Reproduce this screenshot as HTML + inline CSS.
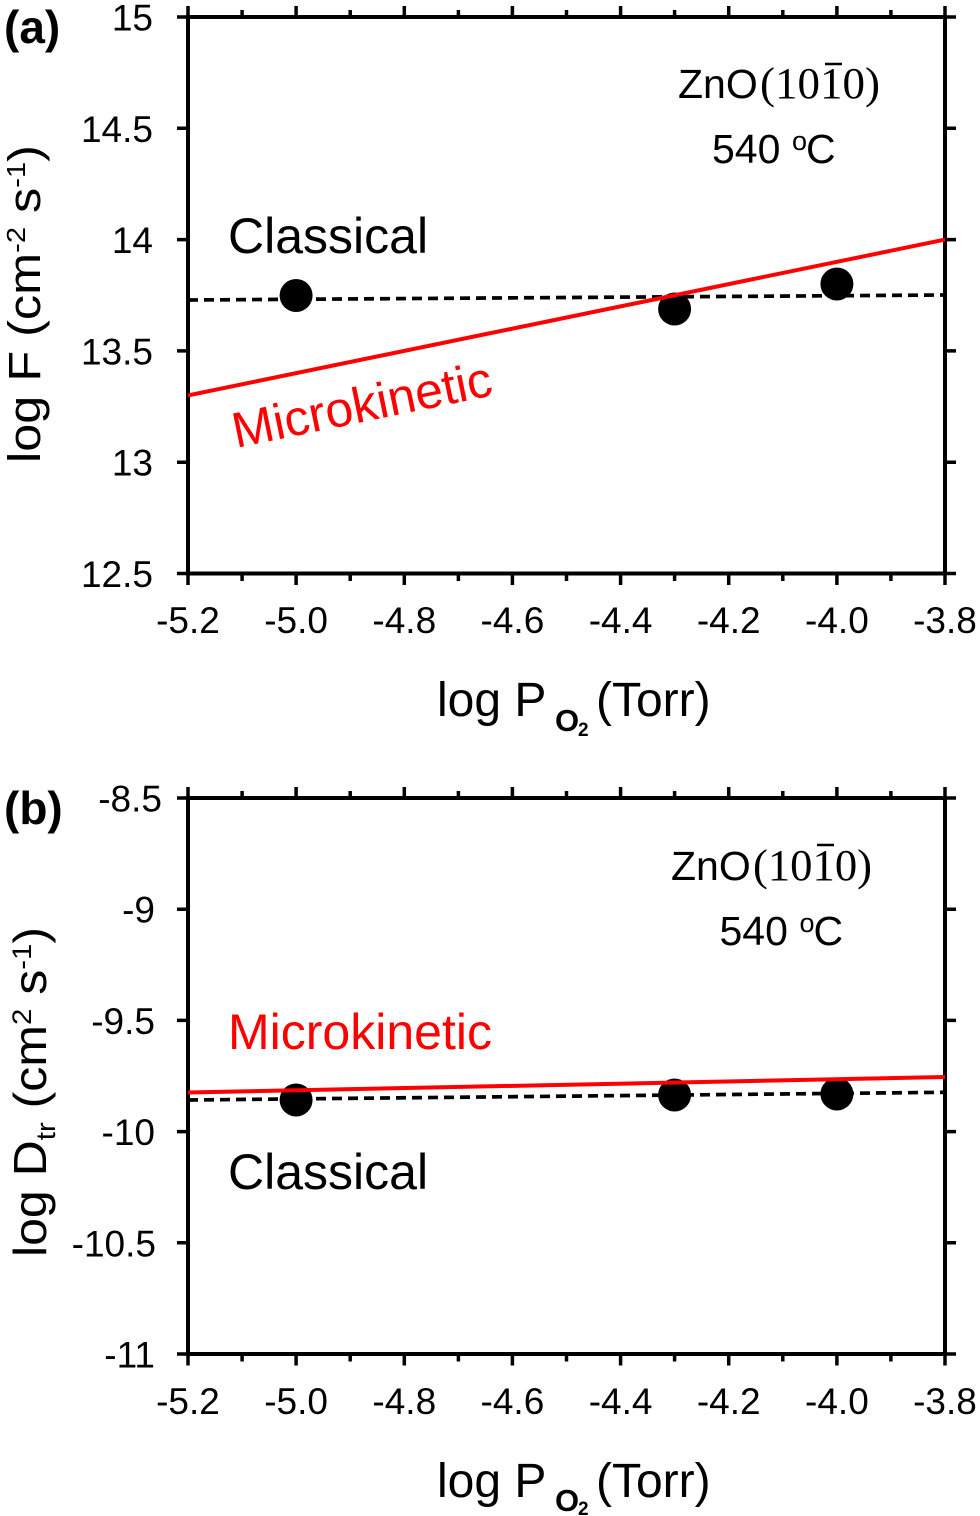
<!DOCTYPE html>
<html>
<head>
<meta charset="utf-8">
<style>
  html, body { margin: 0; padding: 0; background: #ffffff; }
  svg { display: block; }
  text { font-family: "Liberation Sans", Arial, sans-serif; fill: #000; }
  .serif { font-family: "Liberation Serif", "Times New Roman", serif; }
</style>
</head>
<body>
<svg width="980" height="1516" viewBox="0 0 980 1516" xmlns="http://www.w3.org/2000/svg">
  <rect x="0" y="0" width="980" height="1516" fill="#ffffff"/>

  <!-- ================= PANEL (a) ================= -->
  <text x="4" y="43" font-size="46" font-weight="bold">(a)</text>

  <!-- frame -->
  <rect x="188" y="17" width="757" height="556.5" fill="none" stroke="#000" stroke-width="4"/>
  <!-- ticks -->
  <path fill="none" stroke="#000" stroke-width="3.5" d="
    M188 573.5V585 M242.1 573.5V581 M296.1 573.5V585 M350.2 573.5V581 M404.3 573.5V585 M458.4 573.5V581 M512.4 573.5V585 M566.5 573.5V581 M620.6 573.5V585 M674.6 573.5V581 M728.7 573.5V585 M782.8 573.5V581 M836.9 573.5V585 M890.9 573.5V581 M945 573.5V585
    M188 17V6 M242.1 17V10 M296.1 17V6 M350.2 17V10 M404.3 17V6 M458.4 17V10 M512.4 17V6 M566.5 17V10 M620.6 17V6 M674.6 17V10 M728.7 17V6 M782.8 17V10 M836.9 17V6 M890.9 17V10 M945 17V6
    M177 17H188 M177 128.3H188 M177 239.6H188 M177 350.9H188 M177 462.2H188 M177 573.5H188
    M945 17H956 M945 128.3H956 M945 239.6H956 M945 350.9H956 M945 462.2H956 M945 573.5H956"/>

  <!-- y tick labels -->
  <g font-size="37" text-anchor="end">
    <text x="153" y="30.5">15</text>
    <text x="153" y="141.8">14.5</text>
    <text x="153" y="253">14</text>
    <text x="153" y="364.4">13.5</text>
    <text x="153" y="475.7">13</text>
    <text x="153" y="587">12.5</text>
  </g>
  <!-- x tick labels -->
  <g font-size="37" text-anchor="middle">
    <text x="188" y="633">-5.2</text>
    <text x="296.1" y="633">-5.0</text>
    <text x="404.3" y="633">-4.8</text>
    <text x="512.4" y="633">-4.6</text>
    <text x="620.6" y="633">-4.4</text>
    <text x="728.7" y="633">-4.2</text>
    <text x="836.9" y="633">-4.0</text>
    <text x="945" y="633">-3.8</text>
  </g>

  <!-- axis titles -->
  <text transform="translate(40,304) rotate(-90)" text-anchor="middle" font-size="45" textLength="318" lengthAdjust="spacingAndGlyphs">log F (cm<tspan font-size="26" dy="-15">-2</tspan><tspan dy="15"> s</tspan><tspan font-size="26" dy="-15">-1</tspan><tspan dy="15">)</tspan></text>

  <text x="437" y="716" font-size="48">log P</text>
  <text x="555" y="731" font-size="31" font-weight="bold">O</text>
  <text x="578" y="736" font-size="19" font-weight="bold">2</text>
  <text x="596" y="716" font-size="48">(Torr)</text>

  <!-- annotations -->
  <text x="678" y="98" font-size="41">ZnO</text>
  <text x="760" y="98" font-size="44" class="serif" textLength="120" lengthAdjust="spacingAndGlyphs">(1010)</text>
  <line x1="825" y1="64" x2="842" y2="64" stroke="#000" stroke-width="2.5"/>
  <text x="712" y="163" font-size="41">540</text>
  <text x="792" y="150" font-size="27">o</text>
  <text x="806" y="163" font-size="41">C</text>

  <text x="228" y="253" font-size="50">Classical</text>
  <text transform="translate(236,448) rotate(-11.6)" font-size="50" style="fill:#ff0000">Microkinetic</text>

  <!-- data -->
  <circle cx="296.1" cy="295.5" r="16.5" fill="#000"/>
  <circle cx="674.6" cy="309" r="16.5" fill="#000"/>
  <circle cx="836.9" cy="284" r="16.5" fill="#000"/>
  <line x1="188" y1="300" x2="945" y2="295" stroke="#000" stroke-width="3.7" stroke-dasharray="10 6"/>
  <line x1="188" y1="395.4" x2="945" y2="239.6" stroke="#ff0000" stroke-width="4"/>

  <!-- ================= PANEL (b) ================= -->
  <text x="4" y="824" font-size="46" font-weight="bold">(b)</text>

  <rect x="188" y="798" width="757" height="556" fill="none" stroke="#000" stroke-width="4"/>
  <path fill="none" stroke="#000" stroke-width="3.5" d="
    M188 1354V1365.5 M242.1 1354V1361.5 M296.1 1354V1365.5 M350.2 1354V1361.5 M404.3 1354V1365.5 M458.4 1354V1361.5 M512.4 1354V1365.5 M566.5 1354V1361.5 M620.6 1354V1365.5 M674.6 1354V1361.5 M728.7 1354V1365.5 M782.8 1354V1361.5 M836.9 1354V1365.5 M890.9 1354V1361.5 M945 1354V1365.5
    M188 798V787 M242.1 798V791 M296.1 798V787 M350.2 798V791 M404.3 798V787 M458.4 798V791 M512.4 798V787 M566.5 798V791 M620.6 798V787 M674.6 798V791 M728.7 798V787 M782.8 798V791 M836.9 798V787 M890.9 798V791 M945 798V787
    M177 798H188 M177 909.2H188 M177 1020.4H188 M177 1131.6H188 M177 1242.8H188 M177 1354H188
    M945 798H956 M945 909.2H956 M945 1020.4H956 M945 1131.6H956 M945 1242.8H956 M945 1354H956"/>

  <g font-size="37" text-anchor="end">
    <text x="162" y="811.5">-8.5</text>
    <text x="155" y="922.7">-9</text>
    <text x="155" y="1034">-9.5</text>
    <text x="155" y="1145">-10</text>
    <text x="156" y="1256.3">-10.5</text>
    <text x="155" y="1367.5">-11</text>
  </g>
  <g font-size="37" text-anchor="middle">
    <text x="188" y="1414">-5.2</text>
    <text x="296.1" y="1414">-5.0</text>
    <text x="404.3" y="1414">-4.8</text>
    <text x="512.4" y="1414">-4.6</text>
    <text x="620.6" y="1414">-4.4</text>
    <text x="728.7" y="1414">-4.2</text>
    <text x="836.9" y="1414">-4.0</text>
    <text x="945" y="1414">-3.8</text>
  </g>

  <text transform="translate(46,1092) rotate(-90)" text-anchor="middle" font-size="46" textLength="330" lengthAdjust="spacingAndGlyphs">log D<tspan font-size="27" dy="9">tr</tspan><tspan dy="-9"> (cm</tspan><tspan font-size="27" dy="-15">2</tspan><tspan dy="15"> s</tspan><tspan font-size="27" dy="-15">-1</tspan><tspan dy="15">)</tspan></text>

  <text x="437" y="1497" font-size="48">log P</text>
  <text x="555" y="1511" font-size="31" font-weight="bold">O</text>
  <text x="578" y="1515" font-size="19" font-weight="bold">2</text>
  <text x="596" y="1497" font-size="48">(Torr)</text>

  <text x="671" y="880" font-size="41">ZnO</text>
  <text x="753" y="880" font-size="44" class="serif" textLength="119" lengthAdjust="spacingAndGlyphs">(1010)</text>
  <line x1="817" y1="845" x2="834" y2="845" stroke="#000" stroke-width="2.5"/>
  <text x="719.5" y="945" font-size="41">540</text>
  <text x="799.5" y="932" font-size="27">o</text>
  <text x="813.5" y="945" font-size="41">C</text>

  <text x="228" y="1049" font-size="50" style="fill:#ff0000">Microkinetic</text>
  <text x="228" y="1189" font-size="50">Classical</text>

  <circle cx="296.1" cy="1100" r="16.5" fill="#000"/>
  <circle cx="674.6" cy="1095" r="16.5" fill="#000"/>
  <circle cx="836.9" cy="1094" r="16.5" fill="#000"/>
  <line x1="188" y1="1100" x2="945" y2="1092.3" stroke="#000" stroke-width="3.7" stroke-dasharray="10 6"/>
  <line x1="188" y1="1092.5" x2="945" y2="1077" stroke="#ff0000" stroke-width="4"/>
</svg>
</body>
</html>
